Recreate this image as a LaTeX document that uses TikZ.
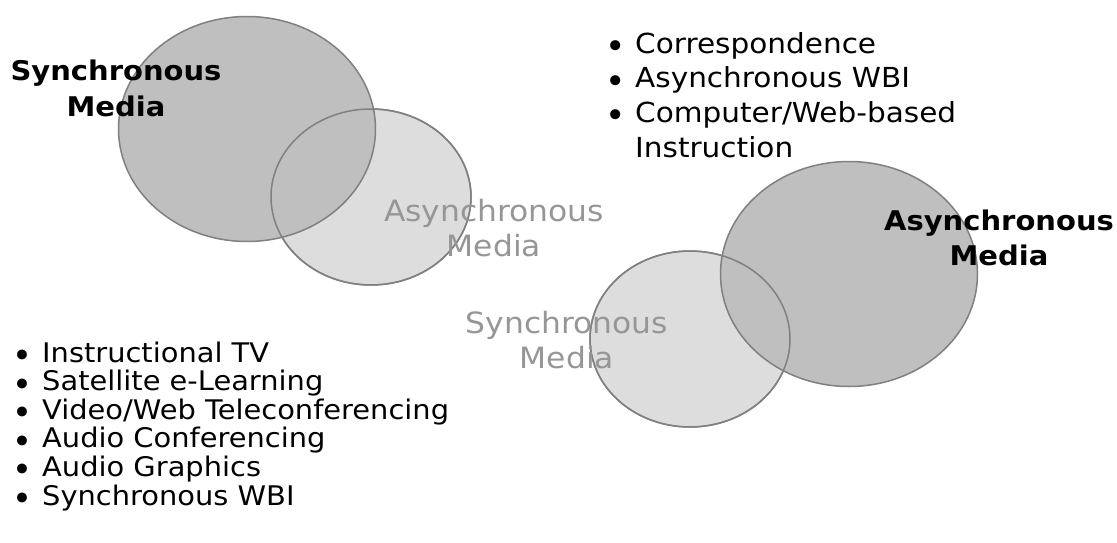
\documentclass[tikz,border=0pt]{standalone}
\usepackage{fontspec}
\setmainfont{DejaVu Sans}[FakeStretch=1.07]
\usepackage{graphicx}
\usepackage{tikz}
\usetikzlibrary{shapes.geometric}

\definecolor{discdark}{RGB}{191,191,191}
\definecolor{disclight}{RGB}{221,221,221}
\definecolor{rimgray}{RGB}{128,128,128}
\definecolor{labelgray}{RGB}{150,150,150}

\newcommand{\dotitem}{\makebox[40pt]{\raisebox{-5.5pt}{\scalebox{1.17}[1.25]{\textbullet}}}}

\tikzset{
  bigdisc/.style={ellipse,draw=rimgray,line width=1.5pt,fill=discdark,minimum width=257pt,minimum height=225pt,inner sep=0pt},
  smalldisc/.style={ellipse,draw=rimgray,line width=1.5pt,fill=disclight,minimum width=200pt,minimum height=176pt,inner sep=0pt},
  rim/.style={draw=rimgray,line width=1.5pt},
  boldlabel/.style={font=\fontsize{27.1}{35.3}\selectfont\bfseries,align=center,inner sep=0pt,anchor=base},
  greylabel/.style={font=\fontsize{29.3}{35.5}\selectfont,text=labelgray,align=center,inner sep=0pt,anchor=base},
  lowlist/.style={font=\fontsize{27}{28.6}\selectfont,align=left,inner sep=0pt,anchor=base west},
  highlist/.style={font=\fontsize{27.6}{34.7}\selectfont,align=left,inner sep=0pt,anchor=base west}
}

\begin{document}
\begin{tikzpicture}[x=1pt,y=-1pt]
\useasboundingbox (0,0) rectangle (1117,543);
% left pair
\node[smalldisc] (asyncsmall) at (371,197) {};
\node[bigdisc] (syncbig) at (247,129) {};
\draw[rim] (asyncsmall.center) ellipse [x radius=100,y radius=88];
% right pair
\node[smalldisc] (syncsmall) at (690,339) {};
\node[bigdisc] (asyncbig) at (849,274) {};
\draw[rim] (syncsmall.center) ellipse [x radius=100,y radius=88];
% labels (base = last line)
\node[boldlabel] (synctitle) at (116,116) {Synchronous\\Media};
\node[greylabel] (asyncnote) at (494,256.7) {Asynchronous\\Media};
\node[boldlabel] (asynctitle) at (999,265.3) {Asynchronous\\Media};
\node[greylabel] (syncnote) at (567,368.5) {Synchronous\\Media};
% lists
\node[highlist] (asynclist) at (595,157.1) {\dotitem Correspondence\\
  \dotitem Asynchronous WBI\\
  \dotitem Computer/Web-based\\
  \hspace*{40pt}Instruction};
\node[lowlist] (synclist) at (2,505) {\dotitem Instructional TV\\
  \dotitem Satellite e-Learning\\
  \dotitem Video/Web Teleconferencing\\
  \dotitem Audio Conferencing\\
  \dotitem Audio Graphics\\
  \dotitem Synchronous WBI};
\end{tikzpicture}
\end{document}
